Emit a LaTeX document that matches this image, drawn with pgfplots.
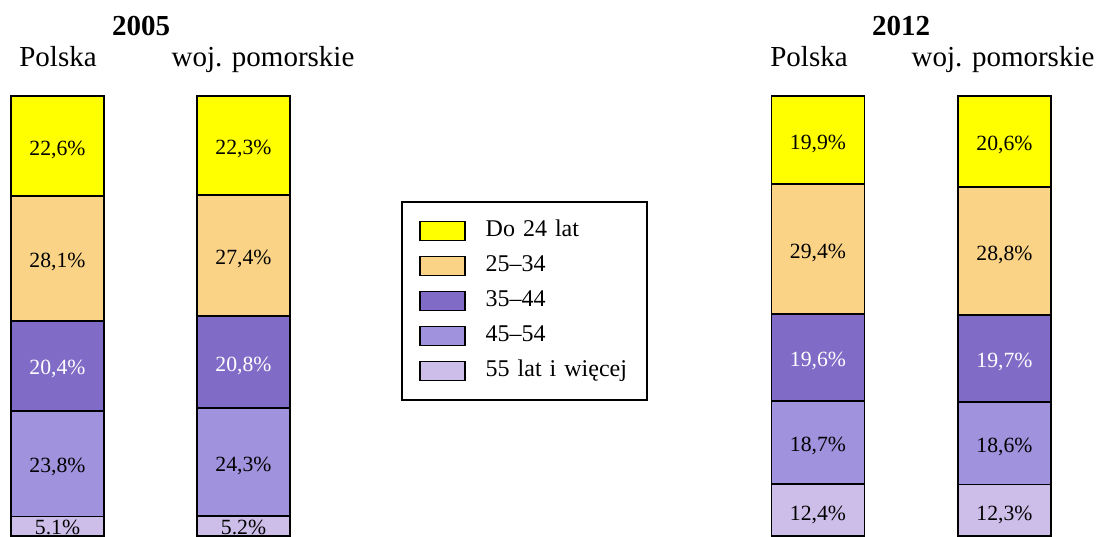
\documentclass[border=0pt]{standalone}
\usepackage{fontspec}
\setmainfont{Liberation Serif}
\usepackage{pgfplots}
\pgfplotsset{compat=1.18}
\definecolor{cA}{RGB}{255,255,0}
\definecolor{cB}{RGB}{250,211,135}
\definecolor{cC}{RGB}{128,108,198}
\definecolor{cD}{RGB}{160,146,220}
\definecolor{cE}{RGB}{204,190,232}
\pgfplotsset{
  base/.style={width=548pt,height=268pt,scale only axis,
    xmin=0,xmax=1096,ymin=0.677,ymax=121.67,hide axis},
  sw/.style={draw=black,line width=0.9pt,
    legend image code/.code={\draw[##1] (0pt,-4.75pt) rectangle (22.5pt,4.75pt);}},
}
\begin{document}
\begin{tikzpicture}
\begin{axis}[base, ybar stacked, bar width=93, reverse legend,
  legend style={at={(0.3659,0.625)},anchor=north west,draw=black,line width=0.9pt,
    font=\fontsize{12}{14}\selectfont, inner xsep=8.5pt, inner ysep=8.5pt,
    row sep=5.5pt, column sep=10pt,
    nodes={inner sep=0pt,text height=9pt,text depth=3pt},
    /tikz/every even column/.append style={text width=72pt,align=left}},
  legend cell align=left]
\addplot[sw,fill=cE] coordinates {(57.5,5.1) (243.5,5.2) (818,12.4) (1004.5,12.3)};
\addplot[sw,fill=cD] coordinates {(57.5,23.8) (243.5,24.3) (818,18.7) (1004.5,18.6)};
\addplot[sw,fill=cC] coordinates {(57.5,20.4) (243.5,20.8) (818,19.6) (1004.5,19.7)};
\addplot[sw,fill=cB] coordinates {(57.5,28.1) (243.5,27.4) (818,29.4) (1004.5,28.8)};
\addplot[sw,fill=cA] coordinates {(57.5,22.6) (243.5,22.3) (818,19.9) (1004.5,20.6)};
\legend{55 lat i więcej, 45–54, 35–44, 25–34, Do 24 lat}
\coordinate (bl) at (rel axis cs:0,0);
\coordinate (tr) at (rel axis cs:1,1);
\end{axis}
\begin{axis}[base, clip=false, point meta=explicit,
  /pgf/number format/assume math mode=true,
  every node near coord/.append style={anchor=center,yshift=-1.75pt,font=\fontsize{10.85}{12}\selectfont}]
\addplot[draw=none,mark=none,
  nodes near coords={\pgfmathprintnumber[fixed,fixed zerofill,precision=1,use comma]{\pgfplotspointmeta}\%}]
  table[meta=v] {
x y v
57.5 88.7 22.6
57.5 63.35 28.1
57.5 17.0 23.8
243.5 88.85 22.3
243.5 64.0 27.4
243.5 17.35 24.3
818 90.05 19.9
818 65.4 29.4
818 21.75 18.7
818 6.2 12.4
1004.5 89.7 20.6
1004.5 65.0 28.8
1004.5 21.6 18.6
1004.5 6.15 12.3
};
\addplot[draw=none,mark=none,
  nodes near coords={\pgfmathprintnumber[fixed,fixed zerofill,precision=1,use comma]{\pgfplotspointmeta}\%},
  every node near coord/.append style={text=white}]
  table[meta=v] {
x y v
57.5 39.1 20.4
243.5 39.9 20.8
818 40.9 19.6
1004.5 40.75 19.7
};
\addplot[draw=none,mark=none,
  nodes near coords={\pgfmathprintnumber[fixed,fixed zerofill,precision=1,use period]{\pgfplotspointmeta}\%}]
  table[meta=v] {
x y v
57.5 3.5 5.1
243.5 3.5 5.2
};
\node[anchor=base,font=\fontsize{14.5}{16}\selectfont\bfseries] at (axis cs:141,113.55) {2005};
\node[anchor=base,font=\fontsize{14.5}{16}\selectfont\bfseries] at (axis cs:901,113.55) {2012};
\node[anchor=base,font=\fontsize{14.5}{16}\selectfont] at (axis cs:58,106.77) {Polska};
\node[anchor=base,font=\fontsize{14.5}{16}\selectfont] at (axis cs:263,106.77) {woj. pomorskie};
\node[anchor=base,font=\fontsize{14.5}{16}\selectfont] at (axis cs:809,106.77) {Polska};
\node[anchor=base,font=\fontsize{14.5}{16}\selectfont] at (axis cs:1003,106.77) {woj. pomorskie};
\end{axis}
\pgfresetboundingbox
\path[use as bounding box] (bl) rectangle (tr);
\end{tikzpicture}
\end{document}
